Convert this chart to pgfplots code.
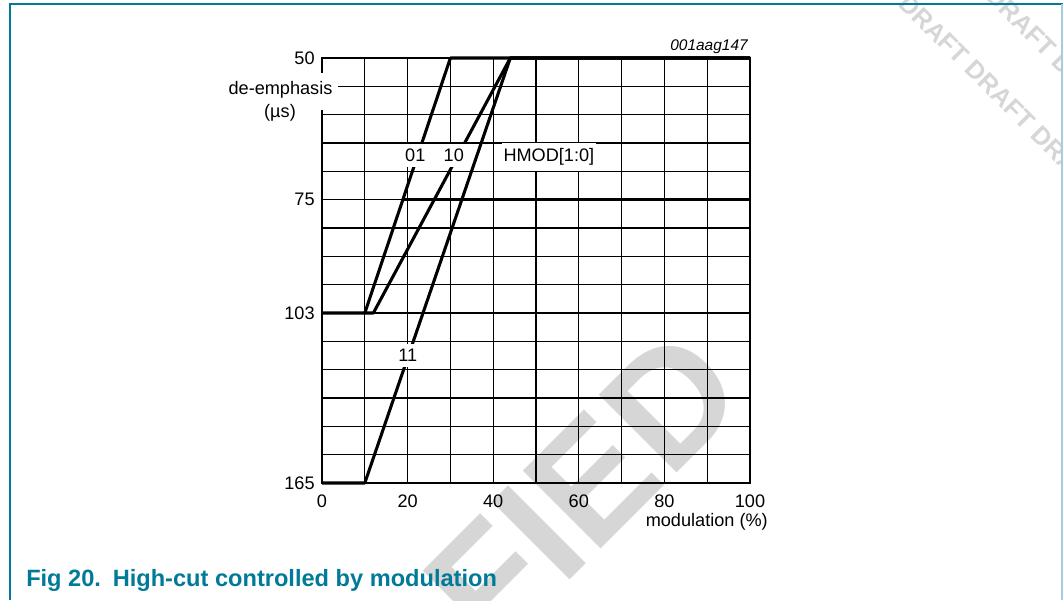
\documentclass[border=0pt]{standalone}
\usepackage{fontspec}
\setmainfont{Liberation Sans}
\usepackage{pgfplots}
\pgfplotsset{compat=1.18}
\definecolor{teal1}{RGB}{0,122,150}
\definecolor{frameblue}{RGB}{165,205,225}
\definecolor{wm}{RGB}{214,214,214}
\newcommand{\lf}{\fontsize{13.6}{15}\selectfont}
\begin{document}
\begin{tikzpicture}[x=0.75pt,y=0.75pt]
\useasboundingbox (0,0) rectangle (1063,600);
\begin{scope}
\clip (0,0) rectangle (1063,600);
\node[rotate=-45, text=wm, inner sep=0, font=\bfseries\fontsize{19}{19}\selectfont] at (1000,505) {DRAFT DRAFT DRAFT};
\node[rotate=-45, text=wm, inner sep=0, font=\bfseries\fontsize{19}{19}\selectfont] at (1021,578) {DRAFT DRAFT DRAFT};
\node[rotate=45, text=wm, inner sep=0, font=\bfseries\fontsize{120}{120}\selectfont] at (583,111) {FIED};
\end{scope}
\draw[teal1, line width=1.5pt] (10,0) -- (10,596) -- (1063,596);
\draw[frameblue, line width=1.5pt] (1062,596) -- (1062,0);
\begin{axis}[
 at={(241.5pt,87.75pt)}, anchor=south west,
 scale only axis, width=321pt, height=318.75pt,
 xmin=0, xmax=100, ymin=0, ymax=15,
 xtick={0,20,...,100}, minor xtick={10,30,...,90},
 ytick={0,6,10,15}, yticklabels={165,103,75,50},
 minor ytick={1,2,3,4,5,7,8,9,11,12,13,14},
 grid=both,
 major grid style={black, line width=0.8pt},
 minor grid style={black, line width=0.8pt},
 axis line style={black, line width=0.8pt},
 major tick length=0pt, minor tick length=0pt,
 tick label style={font=\lf},
 /pgf/number format/assume math mode=true,
 xticklabel style={yshift=-5pt},
 yticklabel style={xshift=-2pt},
 clip=false,
]
\addplot[black, line width=2.3pt, line join=round] coordinates {(0,6) (10,6) (30,15) (100,15)};
\addplot[black, line width=2.3pt, line join=round] coordinates {(10,6) (12,6) (44,15) (100,15)};
\addplot[black, line width=2.3pt, line join=round] coordinates {(0,0) (10,0) (44,15) (100,15)};
\addplot[black, line width=2.3pt] coordinates {(18.9,10) (100,10)};
\node[anchor=base, fill=white, inner xsep=1.5pt, inner ysep=4pt, font=\lf] at (axis cs:21.8,11.34) {01};
\node[anchor=base, fill=white, inner xsep=1.5pt, inner ysep=4pt, font=\lf] at (axis cs:30.8,11.34) {10};
\node[anchor=base, fill=white, inner xsep=1.5pt, inner ysep=4pt, font=\lf] at (axis cs:53.0,11.34) {HMOD[1:0]};
\node[anchor=base, fill=white, inner xsep=1.5pt, inner ysep=4pt, font=\lf] at (axis cs:20.05,4.28) {11};
\end{axis}
\fill[white] (225,527) rectangle (338,490);
\node[anchor=base, inner sep=0, font=\lf] at (280.5,505) {de-emphasis};
\node[anchor=base, inner sep=0, font=\lf] at (280,482) {(µs)};
\node[anchor=base east, inner sep=0, font=\lf] at (768,74) {modulation (\%)};
\node[anchor=base east, inner sep=0, font=\itshape\fontsize{11.6}{13}\selectfont] at (748,549.3) {001aag147};
\node[anchor=base west, inner sep=0, text=teal1, font=\bfseries\fontsize{17.7}{20}\selectfont] at (26,13.3) {Fig 20.\hspace{0.5em}High-cut controlled by modulation};
\end{tikzpicture}
\end{document}
